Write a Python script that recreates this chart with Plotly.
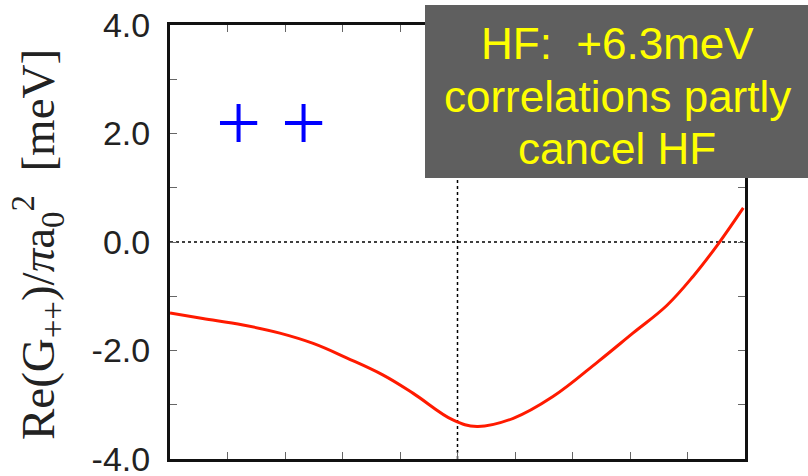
import plotly.graph_objects as go

# Data
x_vals = [0.0, 0.57, 1.27, 1.91, 2.49, 3.08, 3.70, 4.23, 4.92, 5.34, 5.97, 6.66, 7.45, 8.05, 8.64, 9.10, 9.51, 9.97]
y_vals = [-1.31, -1.41, -1.53, -1.68, -1.87, -2.14, -2.45, -2.79, -3.28, -3.40, -3.25, -2.85, -2.20, -1.68, -1.17, -0.63, -0.07, 0.63]
y_tickvals = [-4, -3, -2, -1, 0, 1, 2, 3, 4]
y_ticktext = ["-4.0", "", "-2.0", "", "0.0", "", "2.0", "", "4.0"]
x_tickvals = [0, 1, 2, 3, 4, 5, 6, 7, 8, 9, 10]
box_lines = ["HF:  +6.3meV", "correlations partly", "cancel HF"]
box_line_y = [43, 96, 148]  # pixel centres of the text lines

W, H = 808, 476
L, R, T, B = 170, 63, 25, 17
pw, ph = W - L - R, H - T - B

def px2paper_x(px):
    return (px - L) / pw

def px2paper_y(py):
    return (H - B - py) / ph

fig = go.Figure()

# dotted reference lines
fig.add_trace(go.Scatter(x=[0, 10], y=[0, 0], mode="lines",
                         line=dict(color="black", width=1.5, dash="dot"),
                         hoverinfo="skip", showlegend=False))
fig.add_trace(go.Scatter(x=[5, 5], y=[-4, 4], mode="lines",
                         line=dict(color="black", width=1.5, dash="dot"),
                         hoverinfo="skip", showlegend=False))

fig.add_trace(go.Scatter(x=x_vals, y=y_vals, mode="lines",
                         line=dict(color="#ff1a00", width=3, shape="spline", smoothing=1.1),
                         showlegend=False))

fig.update_xaxes(range=[0, 10], tickvals=x_tickvals, showticklabels=False,
                 ticks="inside", ticklen=7, tickwidth=1, tickcolor="#666666",
                 showline=True, linecolor="#111111", linewidth=3, mirror="ticks",
                 showgrid=False, zeroline=False, automargin=False)
fig.update_yaxes(range=[-4, 4], tickvals=y_tickvals, ticktext=y_ticktext,
                 ticks="inside", ticklen=7, tickwidth=1, tickcolor="#666666",
                 showline=True, linecolor="#111111", linewidth=3, mirror="ticks",
                 showgrid=False, zeroline=False, ticklabeloverflow="allow",
                 ticklabelstandoff=10, automargin=False,
                 tickfont=dict(family="Liberation Sans, Arial", size=34, color="#222222"))

annotations = [
    dict(text="Re(G<sub>++</sub>)/<i>π</i>a<sub>0</sub><sup>2</sup>  [meV]",
         xref="paper", yref="paper", x=px2paper_x(38), y=px2paper_y(245),
         textangle=-90, showarrow=False, xanchor="center", yanchor="middle",
         font=dict(family="Liberation Serif, Times New Roman", size=47, color="#222222")),
    dict(text="+ +", xref="paper", yref="paper", x=px2paper_x(271), y=px2paper_y(123),
         showarrow=False, xanchor="center", yanchor="middle",
         font=dict(family="Liberation Serif, Times New Roman", size=80, color="#0000ff")),
]
for line, py in zip(box_lines, box_line_y):
    annotations.append(dict(text=line, xref="paper", yref="paper",
                            x=px2paper_x(617), y=px2paper_y(py),
                            showarrow=False, xanchor="center", yanchor="middle",
                            font=dict(family="Liberation Sans, Arial", size=44, color="#ffff00")))

fig.update_layout(
    width=W, height=H,
    margin=dict(l=L, r=R, t=T, b=B, pad=0, autoexpand=False),
    paper_bgcolor="white", plot_bgcolor="white",
    showlegend=False,
    shapes=[dict(type="rect", xref="paper", yref="paper",
                 x0=px2paper_x(425), x1=px2paper_x(808),
                 y0=px2paper_y(178), y1=px2paper_y(5),
                 fillcolor="#5f5f5f", line=dict(width=0), layer="above")],
    annotations=annotations,
)

fig.write_html("out.html")
